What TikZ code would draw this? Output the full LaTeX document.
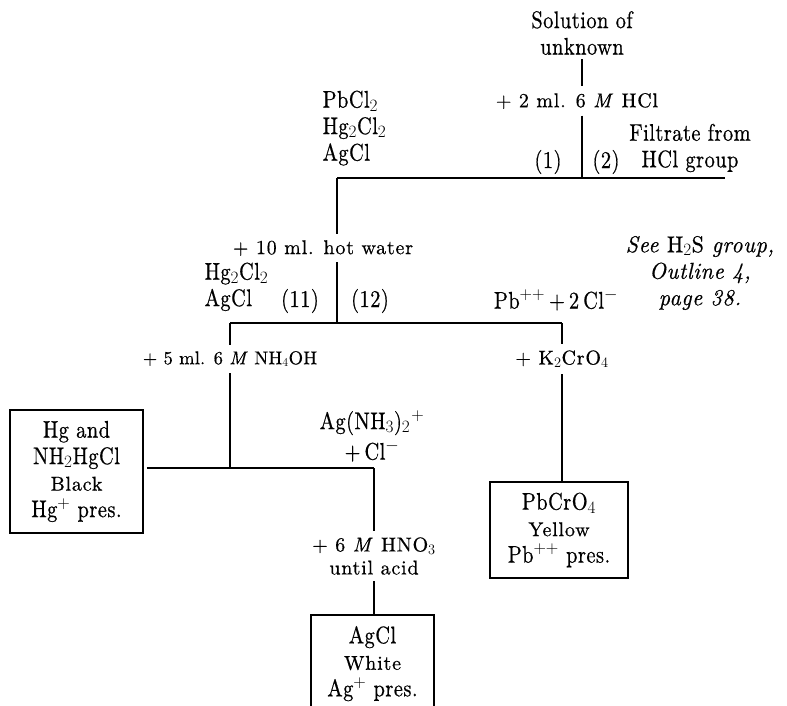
\documentclass[tikz,border=0pt]{standalone}
\usepackage{fontspec}
\setmainfont{lmroman10-regular.otf}[ItalicFont=lmroman10-italic.otf, BoldFont=lmroman10-bold.otf]
\newcommand{\bigf}{\fontsize{24}{26.5}\selectfont\addfontfeatures{LetterSpace=2,FakeStretch=0.85,FakeBold=0.6}}
\newcommand{\smf}{\fontsize{20}{23}\selectfont\addfontfeatures{LetterSpace=4,FakeStretch=1,FakeBold=0.6}}
\newcommand{\itf}{\fontsize{23}{26.5}\selectfont\addfontfeatures{LetterSpace=3,FakeStretch=0.95,FakeBold=0.6}}
\begin{document}
\begin{tikzpicture}[x=1pt,y=-1pt, line width=1.3pt,
  big/.style={font=\bigf, inner sep=0pt, align=center},
  sm/.style={font=\smf, inner xsep=0pt, inner ysep=6pt, align=center},
  result/.style={font=\bigf, draw, line width=1.8pt, align=center, inner sep=0pt},
  ]
\useasboundingbox (0,0) rectangle (787,706);
% top
\node[big] (sol) at (582,33) {Solution of\\unknown};
\node[sm] (hcl) at (577,101) {+ 2 ml. 6 \textit{M} HCl};
\coordinate (j1) at (582,178);
\coordinate (h1L) at (337,178);
\coordinate (h1R) at (725,178);
\draw (sol.south -| j1) ++(0,4) -- (hcl.north -| j1);
\draw (hcl.south -| j1) -- (j1);
\draw (h1L) -- (h1R);
\node[big] (p1) at (548,162) {(1)};
\node[big] (p2) at (606,162) {(2)};
\node[big] (filt) at (690,148) {Filtrate from\\HCl group};
\node[big, align=left, anchor=north west] (ppt) at (322,90) {PbCl$_2$\\Hg$_2$Cl$_2$\\AgCl};
% hot water
\node[sm] (hw) at (323,248) {+ 10 ml. hot water};
\coordinate (j2) at (337,323);
\coordinate (h2L) at (230,323);
\coordinate (h2R) at (562,323);
\draw (h1L) -- (hw.north -| h1L);
\draw (hw.south -| j2) -- (j2);
\draw (h2L) -- (h2R);
\node[big, align=left, anchor=north west] (hgag) at (204,262) {Hg$_2$Cl$_2$\\AgCl};
\node[big] (p11) at (300,301) {(11)};
\node[big] (p12) at (370,301) {(12)};
\node[big] (pb) at (556,300) {Pb$^{++}$\,+\,2\,Cl$^-$};
\node[font=\itf\itshape, inner sep=0pt, align=center] (see) at (700,273) {See \upshape H$_2$S \itshape group,\\Outline 4,\\page 38.};
% NH4OH branch
\node[sm, font=\fontsize{18.5}{23}\selectfont\addfontfeatures{LetterSpace=1,FakeBold=0.6}] (nh) at (230,359) {+ 5 ml. 6 \textit{M} NH$_4$OH};
\coordinate (j3) at (230,468);
\coordinate (h3R) at (374,468);
\draw (h2L) -- (nh.north -| h2L);
\draw (nh.south -| h2L) -- (j3);
\node[result, minimum width=133pt, minimum height=123pt] (hgbox) at (76.5,471.5)
  {Hg and\\NH$_2$HgCl\\{\smf Black}\\Hg$^+$ pres.};
\draw ([xshift=3pt]hgbox.east |- j3) -- (h3R);
\node[big] (agn) at (372,436) {Ag(NH$_3$)$_2$\kern1pt$^+$\\[4pt]+\,Cl$^-$};
\node[sm] (hno) at (374,556) {+ 6 \textit{M} HNO$_3$\\until acid};
\draw (h3R) -- (hno.north -| h3R);
\node[font=\bigf, align=center, inner sep=0pt, minimum width=121pt, minimum height=96pt, anchor=north] (agbox) at (372.5,615)
  {AgCl\\{\smf White}\\Ag$^+$ pres.};
\draw (hno.south -| h3R) -- (agbox.north -| h3R);
\draw[line width=1.8pt] (agbox.south west) -- (agbox.north west) -- (agbox.north east) -- (agbox.south east);
% K2CrO4 branch
\node[sm] (kc) at (562,359) {+ K$_2$CrO$_4$};
\draw (h2R) -- (kc.north -| h2R);
\node[result, minimum width=138pt, minimum height=96pt] (pbbox) at (559,530)
  {PbCrO$_4$\\{\smf Yellow}\\Pb$^{++}$ pres.};
\draw (kc.south -| h2R) -- (pbbox.north -| h2R);
\end{tikzpicture}
\end{document}
